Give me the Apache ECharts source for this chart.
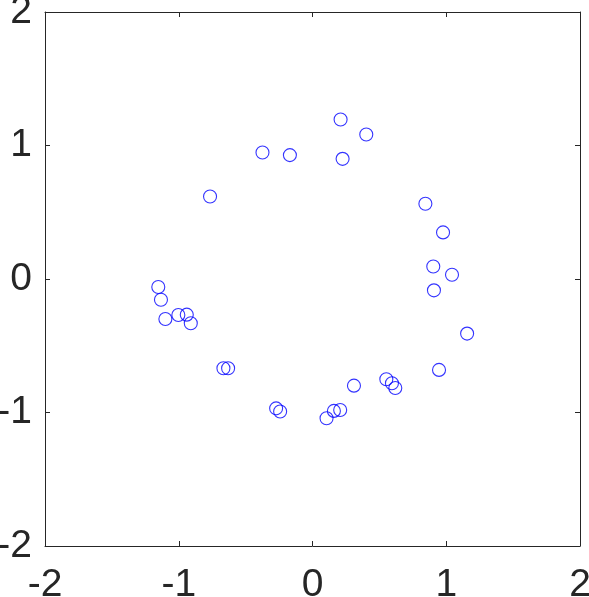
<!DOCTYPE html>
<html>
<head>
<meta charset="utf-8">
<script src="https://cdn.jsdelivr.net/npm/echarts@6/dist/echarts.min.js"></script>
<style>
  html, body { margin: 0; padding: 0; background: #fff; }
  #chart { width: 589px; height: 597px; }
</style>
</head>
<body>
<div id="chart"></div>
<script>
  // point coordinates
  var xValues = [
    -1.153, -1.133, -0.766, -0.374, -0.169,
    0.210, 0.402, 0.225, 0.844, 0.976, 0.903, 1.043, 0.908,
    -1.100, -1.003, -0.940, -0.910, -0.666, -0.631, -0.272, -0.242,
    1.156, 0.946, 0.310, 0.552, 0.594, 0.619, 0.160, 0.207, 0.105
  ];
  var yValues = [
    -0.060, -0.155, 0.618, 0.948, 0.928,
    1.195, 1.082, 0.900, 0.564, 0.349, 0.094, 0.032, -0.085,
    -0.300, -0.270, -0.267, -0.332, -0.669, -0.669, -0.969, -0.993,
    -0.409, -0.681, -0.799, -0.751, -0.781, -0.816, -0.988, -0.981, -1.043
  ];
  var tickLabels = ["-2", "-1", "0", "1", "2"];

  var axisColor = "#262626";
  var labelFont = "Liberation Sans";

  var points = xValues.map(function (x, i) {
    return [x, yValues[i]];
  });

  function makeAxis(type, pos, showLabel) {
    return {
      type: "value",
      position: pos,
      min: -2,
      max: 2,
      interval: 1,
      axisLine: { show: true, onZero: false, lineStyle: { color: axisColor, width: 1 } },
      axisTick: { show: true, inside: true, length: 5, lineStyle: { color: axisColor } },
      axisLabel: {
        show: showLabel,
        color: axisColor,
        fontSize: 39,
        fontFamily: labelFont,
        margin: type === "x" ? 20 : 13,
        formatter: function (v) {
          return tickLabels[Math.round(v) + 2];
        }
      },
      splitLine: { show: false }
    };
  }

  var chart = echarts.init(document.getElementById("chart"));
  chart.setOption({
    backgroundColor: "#fff",
    animation: false,
    grid: {
      left: 45, right: 9, top: 12, bottom: 51,
      containLabel: false,
      outerBoundsMode: "none"
    },
    xAxis: [makeAxis("x", "bottom", true), makeAxis("x", "top", false)],
    yAxis: [makeAxis("y", "left", true), makeAxis("y", "right", false)],
    series: [
      {
        type: "scatter",
        data: points,
        symbol: "circle",
        symbolSize: 13,
        itemStyle: {
          color: "rgba(0,0,0,0)",
          borderColor: "#0000ff",
          borderWidth: 1.1
        }
      }
    ]
  });
</script>
</body>
</html>
